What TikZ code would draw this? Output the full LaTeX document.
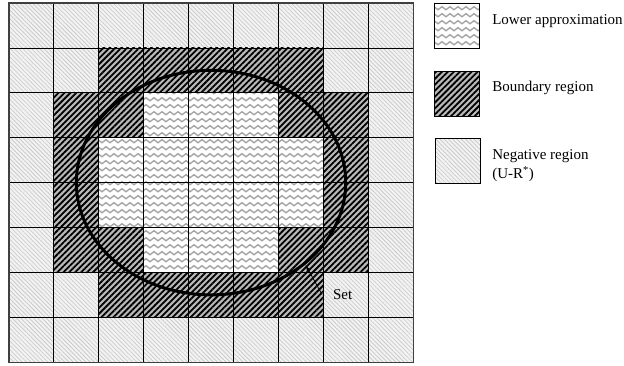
\documentclass[tikz,border=0pt]{standalone}
\usepackage{fontspec}
\setmainfont{Liberation Serif}
\usepackage{tikz}
\usetikzlibrary{patterns, patterns.meta, shapes.geometric, arrows.meta}

\tikzdeclarepattern{
  name=lowerwaves,
  type=uncolored,
  bottom left={(-0.1pt,-3pt)},
  top right={(8.1pt,3pt)},
  tile size={(8pt,7pt)},
  code={\draw[line width=1.4pt] (0pt,0pt) sin (2pt,1.5pt) cos (4pt,0pt) sin (6pt,-1.5pt) cos (8pt,0pt);}
}

\tikzset{
  cellN/.style={fill=gray!10, postaction={pattern={Lines[angle=-45,distance=3pt,line width=0.6pt]}, pattern color=gray!45}},
  cellB/.style={fill=gray!55, postaction={pattern={Lines[angle=45,distance=4.2pt,line width=1.8pt]}, pattern color=black}},
  cellL/.style={fill=white, postaction={pattern=lowerwaves, pattern color=gray!70}},
  lbl/.style={font=\fontsize{15}{19}\selectfont, inner sep=0pt},
  legbox/.style={minimum size=45pt, inner sep=0pt, postaction={draw, line width=1.1pt}}
}

\begin{document}
\begin{tikzpicture}[x=44.9pt, y=44.9pt]
    \useasboundingbox (-0.2,-0.067) rectangle (13.697,8.067);
    \foreach \row [count=\r from 0] in {
        {N,N,N,N,N,N,N,N,N},
        {N,N,B,B,B,B,B,N,N},
        {N,B,B,L,L,L,B,B,N},
        {N,B,L,L,L,L,L,B,N},
        {N,B,L,L,L,L,L,B,N},
        {N,B,B,L,L,L,B,B,N},
        {N,N,B,B,B,B,B,N,N},
        {N,N,N,N,N,N,N,N,N}}
        \foreach \c [count=\k from 0] in \row
            \fill[cell\c] (\k,7-\r) rectangle ++(1,1);
    \draw[line width=0.8pt, step={(1,1)}] (0,0) grid (9,8);
    \draw[line width=1.2pt, black!75] (0,0) rectangle (9,8);

    \node[ellipse, draw, line width=3pt, minimum width=269.4pt, minimum height=224.5pt, inner sep=0pt] (setellipse) at (4.5,4) {};
    \node[lbl, inner xsep=11pt, anchor=base west] (setlabel) at (6.97,1.403) {Set};
    \draw[-{Latex[length=7pt,width=4pt]}, line width=0.8pt] (setlabel.west) -- (setellipse.-41);

    \node[cellL, legbox] (boxlower) at (9.98,7.485) {};
    \node[cellB, legbox] (boxbound) at (9.98,5.98) {};
    \node[cellN, legbox] (boxneg) at (9.99,4.49) {};
    \node[lbl, anchor=base west] (txtlower) at (10.76,7.53) {Lower approximation};
    \node[lbl, anchor=base west] (txtbound) at (10.76,6.04) {Boundary region};
    \node[lbl, anchor=base west] (txtneg) at (10.76,4.52) {Negative region};
    \node[lbl, anchor=base west] (txtnegsub) at ([yshift=-19pt]txtneg.base west) {(U-R\textsuperscript{*})};
\end{tikzpicture}
\end{document}
